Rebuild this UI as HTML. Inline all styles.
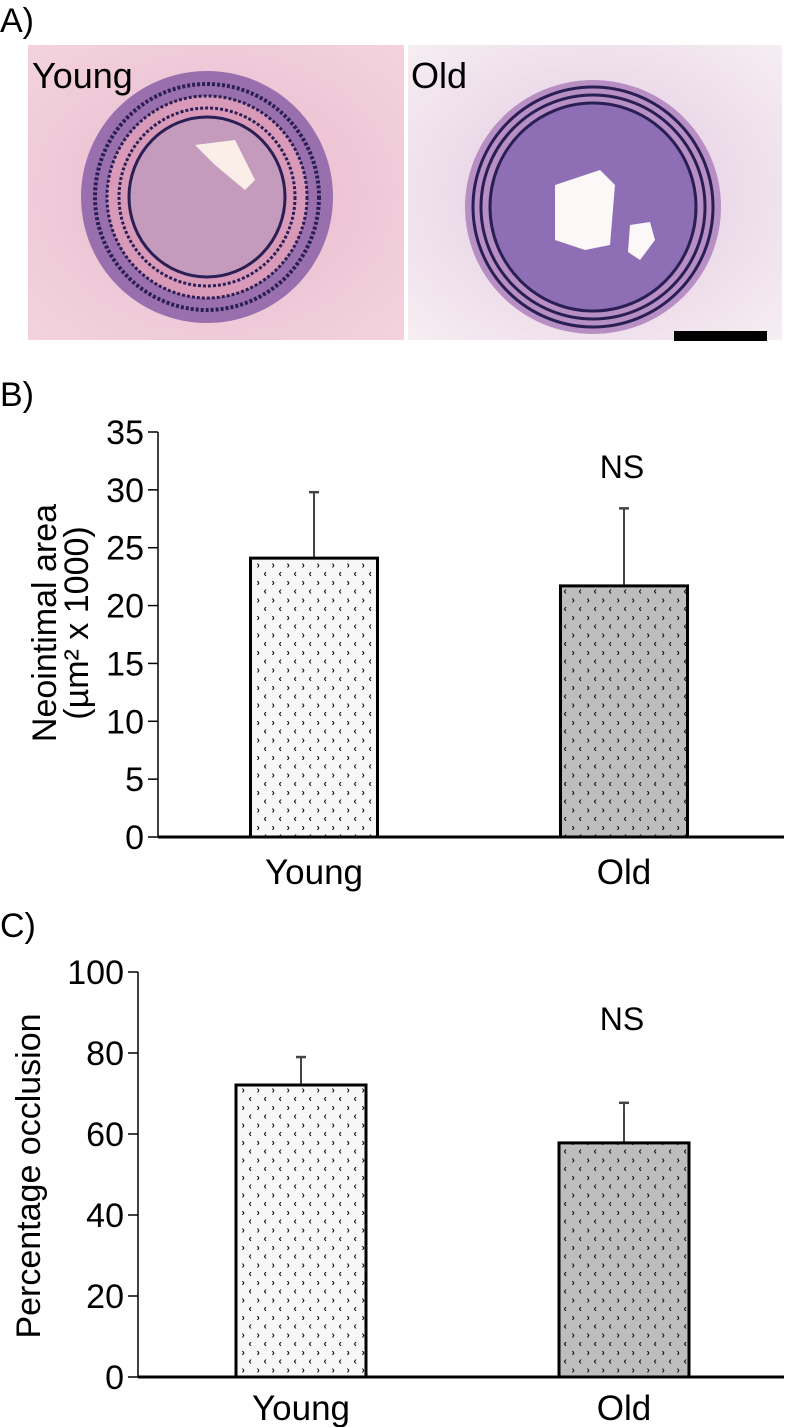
<!DOCTYPE html>
<html><head><meta charset="utf-8">
<style>
html,body{margin:0;padding:0;background:#fff;width:788px;height:1427px;overflow:hidden}
svg{display:block;font-family:"Liberation Sans",sans-serif}
</style></head>
<body>
<svg id="root" width="788" height="1427" viewBox="0 0 788 1427">
<defs>
<pattern id="patY" width="15" height="17.5" patternUnits="userSpaceOnUse">
<rect width="15" height="17.5" fill="#f7f7f7"/>
<text x="1.5" y="8" font-size="10" font-weight="bold" fill="#111">›</text><text x="8.5" y="16.5" font-size="10" font-weight="bold" fill="#111">‹</text>
</pattern>
<pattern id="patO" width="15" height="17.5" patternUnits="userSpaceOnUse">
<rect width="15" height="17.5" fill="#bdbdbd"/>
<text x="1.5" y="8" font-size="10" font-weight="bold" fill="#111">›</text><text x="8.5" y="16.5" font-size="10" font-weight="bold" fill="#111">‹</text>
</pattern>
<radialGradient id="bgY" cx="0.5" cy="0.5" r="0.7"><stop offset="0" stop-color="#e9b9cf"/><stop offset="1" stop-color="#f3d3dd"/></radialGradient>
<radialGradient id="bgO" cx="0.5" cy="0.5" r="0.7"><stop offset="0" stop-color="#e2c6e0"/><stop offset="1" stop-color="#f6eef2"/></radialGradient>
</defs>

<!-- Panel A -->
<text x="0" y="32" font-size="34">A)</text>
<g>
<rect x="28" y="45" width="376" height="295" fill="url(#bgY)"/>
<ellipse cx="207" cy="197" rx="126" ry="126" fill="#9a6fae"/>
<ellipse cx="207" cy="197" rx="112" ry="113" fill="none" stroke="#2a1f55" stroke-width="4" stroke-dasharray="3 2"/>
<ellipse cx="207" cy="197" rx="100" ry="101" fill="#d89ab8" stroke="#2a1f55" stroke-width="3" stroke-dasharray="3 2"/>
<ellipse cx="207" cy="197" rx="88" ry="89" fill="none" stroke="#2a1f55" stroke-width="3" stroke-dasharray="3 2"/>
<ellipse cx="207" cy="197" rx="78" ry="80" fill="#c49bbd" stroke="#2a1f55" stroke-width="3"/>
<path d="M195 145 L235 140 L255 180 L245 190 L215 165 Z" fill="#fbeee8"/>
<text x="32" y="88" font-size="36" fill="#000">Young</text>
</g>
<g>
<rect x="408" y="45" width="374" height="295" fill="url(#bgO)"/>
<ellipse cx="593" cy="207" rx="128" ry="127" fill="#b88fc4"/>
<ellipse cx="593" cy="207" rx="120" ry="120" fill="none" stroke="#2a1f55" stroke-width="3"/>
<ellipse cx="593" cy="207" rx="112" ry="112" fill="none" stroke="#2a1f55" stroke-width="3"/>
<ellipse cx="593" cy="207" rx="103" ry="104" fill="#8e6fb5" stroke="#2a1f55" stroke-width="3"/>
<path d="M555 185 L600 170 L615 185 L610 245 L585 250 L555 240 Z" fill="#fdf8f8"/>
<path d="M630 225 L650 222 L655 240 L640 260 L628 252 Z" fill="#fdf8f8"/>
<text x="411" y="88" font-size="36" fill="#000">Old</text>
<rect x="674" y="331" width="93" height="10" fill="#000"/>
</g>

<text x="0" y="406" font-size="34">B)</text>
<g id="chartB"></g>
<text x="0" y="937" font-size="34">C)</text>
<g id="chartC"></g>
</svg>
<script>
const categories = ["Young", "Old"];
const areaMeans = [24.1, 21.7];
const areaErrors = [5.7, 6.7];
const areaTicks = [0, 5, 10, 15, 20, 25, 30, 35];
const occlusionMeans = [72.1, 57.8];
const occlusionErrors = [6.9, 9.9];
const occlusionTicks = [0, 20, 40, 60, 80, 100];
const sigLabel = "NS";

const NS = "http://www.w3.org/2000/svg";
function mk(parent, tag, attrs, text){
  const e = document.createElementNS(NS, tag);
  for (const k in attrs) e.setAttribute(k, attrs[k]);
  if (text !== undefined) e.textContent = text;
  parent.appendChild(e);
  return e;
}
function drawChart(g, cfg){
  const y = v => cfg.y0 - (v - cfg.min) / (cfg.max - cfg.min) * (cfg.y0 - cfg.yTop);
  const ax = mk(g, "line", {x1: cfg.axisX, x2: cfg.axisX, y1: y(cfg.max), y2: y(cfg.min), stroke: "#000", "stroke-width": 1.5});
  
  
  cfg.ticks.forEach(t => {
    const tk = mk(g, "line", {x1: cfg.axisX - 10, x2: cfg.axisX, y1: y(t), y2: y(t), stroke: "#000", "stroke-width": 1.5});
    
    
    const tl = mk(g, "text", {x: cfg.axisX - 14, y: y(t) + 12, "font-size": 34, "text-anchor": "end"}, String(t));
    
    
  });
  cfg.means.forEach((m, i) => {
    const cx = cfg.centers[i];
    const top = y(m), et = y(m + cfg.errs[i]);
    const eb = mk(g, "line", {x1: cx, x2: cx, y1: top, y2: et, stroke: "#444", "stroke-width": 2});
    
    
    const cap = mk(g, "line", {x1: cx - 5, x2: cx + 5, y1: et, y2: et, stroke: "#444", "stroke-width": 2.5});
    
    
    const r = mk(g, "rect", {x: cx - cfg.barW / 2, y: top, width: cfg.barW, height: y(cfg.min) - top, fill: i === 0 ? "url(#patY)" : "url(#patO)", stroke: "#000", "stroke-width": 3});
    
    
    const xl = mk(g, "text", {x: cx, y: cfg.labelY, "font-size": 35, "text-anchor": "middle"}, categories[i]);
    
    
  });
  const xa = mk(g, "line", {x1: cfg.axisX, x2: 784, y1: y(cfg.min), y2: y(cfg.min), stroke: "#000", "stroke-width": 3});
  
  
  const ns = mk(g, "text", {x: 622, y: cfg.nsY, "font-size": 32, "text-anchor": "middle"}, sigLabel);
  
  
  cfg.title.forEach((line, k) => {
    const t = mk(g, "text", {x: 0, y: 0, "font-size": cfg.titleSize, "text-anchor": "middle", transform: "translate(" + cfg.titleX[k] + "," + cfg.titleY + ") rotate(-90)"}, line);
    
    
  });
}
drawChart(document.getElementById("chartB"), {
  min: 0, max: 35, y0: 837, yTop: 432, axisX: 158, ticks: areaTicks,
  means: areaMeans, errs: areaErrors, centers: [314, 624], barW: 127,
  labelY: 884, nsY: 478, title: ["Neointimal area", "(µm² x 1000)"], titleX: [56, 88], titleY: 623, titleSize: 34
});
drawChart(document.getElementById("chartC"), {
  min: 0, max: 100, y0: 1377, yTop: 972, axisX: 138, ticks: occlusionTicks,
  means: occlusionMeans, errs: occlusionErrors, centers: [301, 624], barW: 130,
  labelY: 1420, nsY: 1030, title: ["Percentage occlusion"], titleX: [40], titleY: 1176, titleSize: 34
});
</script>
</body></html>
